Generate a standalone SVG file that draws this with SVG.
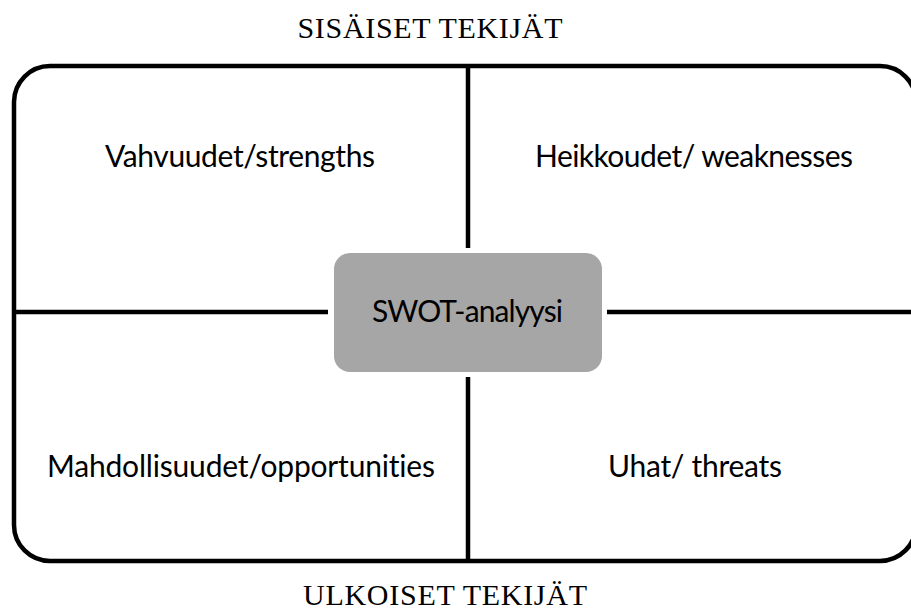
<svg xmlns="http://www.w3.org/2000/svg" width="911" height="611" viewBox="0 0 911 611">
<style>
.frame{fill:#fff;stroke:#000;stroke-width:4.5}
.line{stroke:#000;stroke-width:4.5;fill:none}
.lbl{font-family:Lato,"Open Sans","Liberation Sans",sans-serif;font-size:30px;fill:#000;text-anchor:middle;font-variant-ligatures:none}
.title{font-family:"Liberation Serif","DejaVu Serif",serif;font-size:30px;fill:#000;text-anchor:middle}
.center{fill:#a6a6a6;stroke:none}
</style>
<rect width="911" height="611" fill="#fff"/>
<g id="frame">
<rect class="frame" x="14" y="66" width="902" height="495" rx="36" ry="36"/>
</g>
<g id="connectors">
<line class="line" x1="468" y1="66" x2="468" y2="248"/>
<line class="line" x1="468" y1="377" x2="468" y2="561"/>
<line class="line" x1="14" y1="312" x2="328" y2="312"/>
<line class="line" x1="607" y1="312" x2="916" y2="312"/>
</g>
<g id="title-top"><text class="title" x="430" y="38" textLength="265">SISÄISET TEKIJÄT</text></g>
<g id="title-bottom"><text class="title" x="445" y="605" textLength="284">ULKOISET TEKIJÄT</text></g>
<g id="strengths"><text class="lbl" x="240" y="167" textLength="270">Vahvuudet/strengths</text></g>
<g id="weaknesses"><text class="lbl" x="694" y="167" textLength="318">Heikkoudet/ weaknesses</text></g>
<g id="opportunities"><text class="lbl" x="241" y="477" textLength="388">Mahdollisuudet/opportunities</text></g>
<g id="threats"><text class="lbl" x="695" y="477" textLength="174">Uhat/ threats</text></g>
<g id="swot">
<rect class="center" x="334" y="253" width="268" height="119" rx="16" ry="16"/>
<text class="lbl" x="467.5" y="322" textLength="191">SWOT-analyysi</text>
</g>
</svg>
